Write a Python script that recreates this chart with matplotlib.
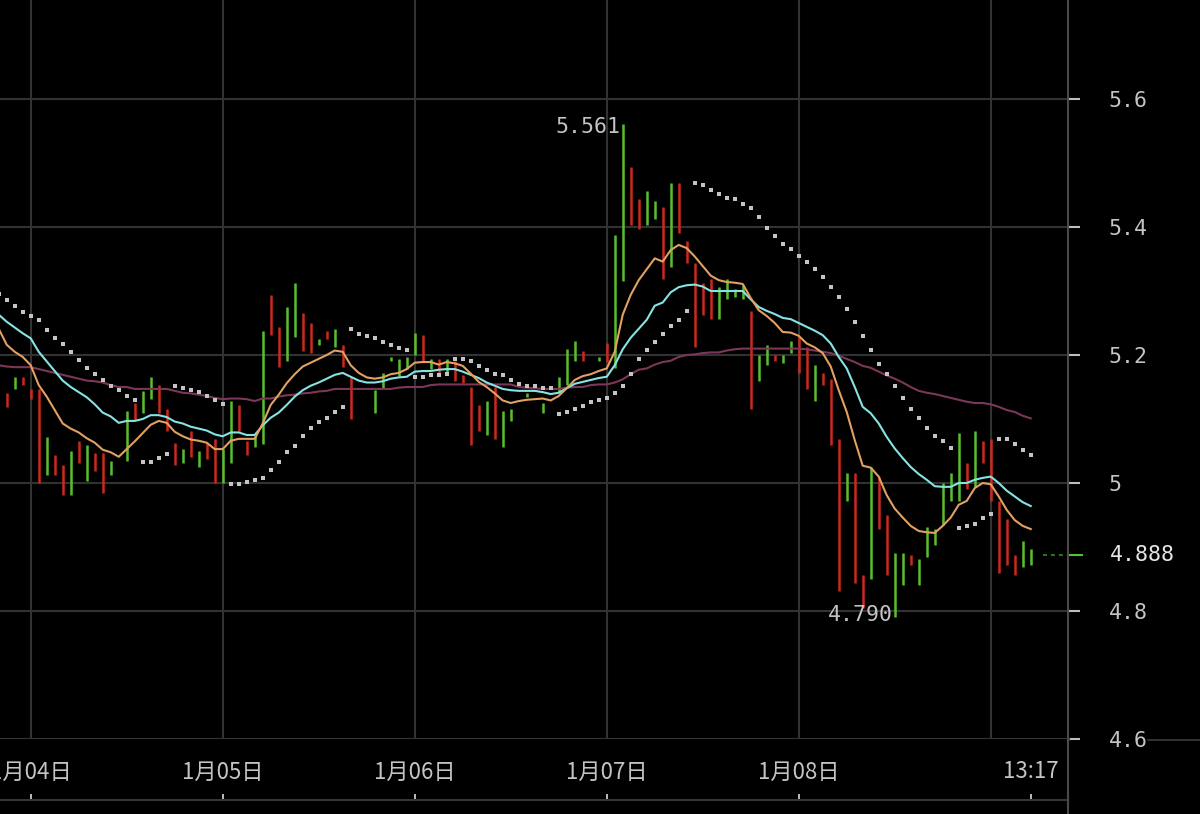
import numpy as np
import matplotlib
matplotlib.use('Agg')
import matplotlib.pyplot as plt
from matplotlib.lines import Line2D
from matplotlib.transforms import blended_transform_factory

nan = np.nan

# hourly bars, index 0..128
opens = [5.140, 5.147, 5.166, 5.147, 5.147, 5.013, 5.044, 5.028, 4.981, 5.066,
         5.003, 5.047, 5.047, 5.013, nan, 5.034, 5.125, 5.109, 5.131, 5.153,
         5.116, 5.063, 5.031, 5.081, 5.025, 5.063, 5.069, 5.000, 5.032, 5.122,
         5.066, 5.057, 5.061, 5.294, 5.244, 5.191, 5.228, 5.266, 5.250, 5.216,
         5.238, 5.213, 5.216, 5.166, nan, nan, 5.109, 5.148, 5.191, 5.167,
         5.178, 5.200, 5.231, 5.178, 5.194, 5.172, 5.191, 5.169, 5.150, 5.122,
         5.075, 5.150, 5.056, 5.097, nan, 5.134, nan, 5.109, nan, 5.141,
         5.153, 5.191, 5.206, nan, 5.191, 5.219, 5.180, 5.316, 5.494, 5.444,
         5.403, 5.413, 5.431, 5.338, 5.469, 5.378, 5.344, 5.313, 5.319, 5.256,
         5.288, 5.291, 5.288, 5.269, 5.159, 5.184, 5.200, 5.188, 5.203, 5.228,
         5.213, 5.128, 5.172, 5.163, 5.069, 4.972, 5.016, 4.856, 4.850, 5.009,
         4.950, 4.790, 4.841, 4.888, 4.841, 4.884, 4.903, 4.934, 4.972, 4.972,
         5.031, 4.994, 5.066, 5.069, 4.972, 4.944, 4.888, 4.869, 4.872]
closes = [5.119, 5.166, 5.153, 5.131, 5.000, 5.072, 5.013, 4.981, 5.050, 5.031,
          5.059, 5.019, 4.984, 5.034, nan, 5.113, 5.099, 5.144, 5.166, 5.109,
          5.081, 5.028, 5.053, 5.041, 5.050, 5.038, 5.000, 5.053, 5.128, 5.081,
          5.044, 5.074, 5.238, 5.231, 5.181, 5.275, 5.313, 5.206, 5.203, 5.225,
          5.225, 5.241, 5.181, 5.100, nan, nan, 5.145, 5.172, 5.197, 5.194,
          5.197, 5.234, 5.191, 5.194, 5.172, 5.194, 5.159, 5.156, 5.059, 5.081,
          5.128, 5.069, 5.113, 5.116, nan, 5.141, nan, 5.125, nan, 5.166,
          5.209, 5.222, 5.191, nan, 5.197, 5.189, 5.388, 5.561, 5.403, 5.397,
          5.456, 5.441, 5.319, 5.469, 5.391, 5.344, 5.213, 5.263, 5.256, 5.306,
          5.319, 5.303, 5.309, 5.116, 5.200, 5.216, 5.191, 5.200, 5.222, 5.172,
          5.147, 5.184, 5.153, 5.059, 4.831, 5.016, 4.844, 4.805, 5.025, 4.928,
          4.856, 4.891, 4.891, 4.872, 4.881, 4.931, 4.928, 5.000, 5.016, 5.078,
          4.991, 5.081, 5.031, 4.972, 4.859, 4.872, 4.856, 4.909, 4.897]

# indicator lines, index -1..128
ma_fast = [5.241, 5.216, 5.205, 5.197, 5.184, 5.153, 5.135, 5.114, 5.093, 5.085,
           5.079, 5.070, 5.063, 5.052, 5.048, 5.041, 5.053, 5.065, 5.078, 5.091,
           5.097, 5.094, 5.080, 5.073, 5.068, 5.066, 5.063, 5.053, 5.053, 5.066,
           5.069, 5.069, 5.069, 5.093, 5.122, 5.138, 5.156, 5.170, 5.182, 5.188,
           5.194, 5.200, 5.207, 5.205, 5.184, 5.172, 5.165, 5.163, 5.165, 5.170,
           5.172, 5.178, 5.188, 5.189, 5.189, 5.185, 5.189, 5.187, 5.183, 5.171,
           5.158, 5.150, 5.140, 5.129, 5.125, 5.128, 5.130, 5.131, 5.132, 5.129,
           5.136, 5.148, 5.161, 5.167, 5.170, 5.175, 5.179, 5.205, 5.263, 5.294,
           5.317, 5.334, 5.351, 5.346, 5.364, 5.372, 5.367, 5.354, 5.339, 5.324,
           5.317, 5.314, 5.313, 5.311, 5.289, 5.270, 5.261, 5.250, 5.236, 5.235,
           5.230, 5.218, 5.212, 5.203, 5.182, 5.145, 5.111, 5.067, 5.027, 5.024,
           5.010, 4.981, 4.960, 4.946, 4.933, 4.925, 4.923, 4.922, 4.933, 4.946,
           4.966, 4.972, 4.992, 5.000, 4.998, 4.979, 4.958, 4.942, 4.933, 4.928]
ma_mid = [5.263, 5.252, 5.243, 5.234, 5.226, 5.205, 5.190, 5.175, 5.160, 5.150,
          5.142, 5.134, 5.123, 5.110, 5.104, 5.094, 5.097, 5.097, 5.100, 5.106,
          5.106, 5.103, 5.096, 5.093, 5.088, 5.085, 5.082, 5.076, 5.073, 5.079,
          5.079, 5.075, 5.075, 5.090, 5.102, 5.110, 5.122, 5.135, 5.145, 5.152,
          5.157, 5.163, 5.169, 5.172, 5.166, 5.160, 5.157, 5.157, 5.159, 5.163,
          5.165, 5.166, 5.174, 5.175, 5.175, 5.177, 5.178, 5.178, 5.174, 5.169,
          5.164, 5.157, 5.152, 5.147, 5.145, 5.144, 5.144, 5.144, 5.142, 5.139,
          5.141, 5.148, 5.155, 5.158, 5.161, 5.164, 5.166, 5.184, 5.209, 5.227,
          5.241, 5.255, 5.277, 5.282, 5.298, 5.306, 5.309, 5.310, 5.307, 5.300,
          5.300, 5.300, 5.300, 5.300, 5.287, 5.275, 5.269, 5.264, 5.258, 5.256,
          5.250, 5.244, 5.238, 5.231, 5.218, 5.197, 5.179, 5.150, 5.119, 5.109,
          5.093, 5.072, 5.054, 5.039, 5.025, 5.014, 5.005, 4.995, 4.994, 4.994,
          5.000, 5.000, 5.005, 5.008, 5.010, 5.000, 4.988, 4.979, 4.970, 4.964]
ma_slow = [5.184, 5.182, 5.181, 5.181, 5.181, 5.178, 5.175, 5.172, 5.169, 5.166,
           5.163, 5.160, 5.159, 5.157, 5.153, 5.150, 5.150, 5.147, 5.147, 5.147,
           5.147, 5.147, 5.144, 5.141, 5.140, 5.138, 5.136, 5.133, 5.131, 5.132,
           5.132, 5.131, 5.128, 5.132, 5.132, 5.135, 5.137, 5.138, 5.140, 5.141,
           5.143, 5.144, 5.147, 5.147, 5.147, 5.147, 5.147, 5.147, 5.147, 5.147,
           5.149, 5.150, 5.150, 5.150, 5.153, 5.154, 5.154, 5.154, 5.154, 5.154,
           5.154, 5.154, 5.154, 5.154, 5.154, 5.150, 5.149, 5.148, 5.147, 5.147,
           5.147, 5.149, 5.150, 5.150, 5.153, 5.154, 5.154, 5.157, 5.162, 5.170,
           5.177, 5.179, 5.185, 5.189, 5.191, 5.197, 5.200, 5.201, 5.203, 5.204,
           5.204, 5.207, 5.209, 5.210, 5.210, 5.210, 5.210, 5.210, 5.210, 5.210,
           5.210, 5.209, 5.207, 5.205, 5.203, 5.199, 5.194, 5.189, 5.183, 5.180,
           5.174, 5.168, 5.163, 5.157, 5.150, 5.144, 5.141, 5.139, 5.136, 5.133,
           5.130, 5.127, 5.125, 5.125, 5.123, 5.119, 5.114, 5.111, 5.105, 5.101]
sar = [5.296, 5.286, 5.277, 5.267, 5.261, 5.255, 5.239, 5.227, 5.217, 5.205,
       5.192, 5.180, 5.170, 5.161, 5.152, 5.145, 5.136, 5.130, 5.033, 5.033,
       5.039, 5.045, 5.152, 5.148, 5.145, 5.142, 5.136, 5.130, 5.123, 4.998,
       4.998, 5.002, 5.005, 5.008, 5.020, 5.033, 5.048, 5.058, 5.074, 5.086,
       5.096, 5.102, 5.111, 5.118, 5.240, 5.233, 5.230, 5.227, 5.221, 5.215,
       5.211, 5.208, 5.165, 5.165, 5.168, 5.168, 5.171, 5.193, 5.193, 5.190,
       5.183, 5.177, 5.171, 5.168, 5.161, 5.155, 5.152, 5.152, 5.149, 5.149,
       5.108, 5.111, 5.115, 5.121, 5.127, 5.130, 5.133, 5.140, 5.152, 5.171,
       5.193, 5.208, 5.221, 5.233, 5.246, 5.255, 5.268, 5.468, 5.465, 5.458,
       5.452, 5.446, 5.443, 5.436, 5.430, 5.415, 5.399, 5.386, 5.374, 5.365,
       5.355, 5.346, 5.335, 5.322, 5.307, 5.291, 5.272, 5.252, 5.230, 5.208,
       5.186, 5.171, 5.152, 5.133, 5.115, 5.102, 5.086, 5.074, 5.065, 5.055,
       4.930, 4.933, 4.936, 4.946, 4.952, 5.068, 5.068, 5.061, 5.052, 5.043]

last_price = 4.888
day_bars = [3, 27, 51, 75, 99, 123]
tick_bars = [3, 27, 51, 75, 99, 128]
tick_labels = ['1月04日', '1月05日', '1月06日', '1月07日', '1月08日', '13:17']
y_ticks = [4.6, 4.8, 5.0, 5.2, 5.4, 5.6]
y_labels = ['4.6', '4.8', '5', '5.2', '5.4', '5.6']

GREEN = '#58bf2f'
RED = '#cc2a1e'
ORANGE = '#e2a063'
CYAN = '#86e3e3'
PURPLE = '#7c3758'
DOTS = '#c4c4c4'
GRID = '#323232'
TXT = '#c4c4c4'

W, H = 1200, 814
def fx(px):
    return px / W
def fy(py):
    return 1 - py / H

fig = plt.figure(figsize=(12, 8.14), dpi=100, facecolor='black')
ax = fig.add_axes([0, fy(739), fx(1068), 739 / H])
ax.set_facecolor('black')
ax.set_xlim(-0.84, 132.66)
ax.set_ylim(4.6, 5.7547)

for s in ['top', 'left', 'right']:
    ax.spines[s].set_visible(False)
ax.spines['bottom'].set_color('#363636')
ax.spines['bottom'].set_linewidth(2.2)

for yv in y_ticks[1:]:
    ax.axhline(yv, color=GRID, lw=1.5, zorder=0)
for d in day_bars:
    ax.axvline(d, color=GRID, lw=1.5, zorder=0)

idx = np.arange(len(opens))
o = np.array(opens)
c = np.array(closes)
cols = [GREEN if cc >= oo else RED for oo, cc in zip(o, c)]
ax.vlines(idx, np.fmin(o, c), np.fmax(o, c), colors=cols, lw=1.8, zorder=2)

lx = np.arange(-1, len(opens))
ax.plot(lx, ma_slow, color=PURPLE, lw=1.5, zorder=3)
ax.plot(lx, ma_mid, color=CYAN, lw=1.5, zorder=4)
ax.plot(lx, ma_fast, color=ORANGE, lw=1.5, zorder=5)
ax.scatter(lx, sar, marker='s', s=9, color=DOTS, lw=0, zorder=6)

# high / low labels
hi_i = int(np.nanargmax(c))
lo_i = int(np.nanargmin(o))
ax.annotate(f'{c[hi_i]:.3f}', xy=(hi_i, c[hi_i]), xytext=(-2, -2),
            textcoords='offset points', ha='right', va='center',
            color=TXT, fontsize=15.5, family='DejaVu Sans Mono')
ax.annotate(f'{o[lo_i]:.3f}', xy=(lo_i, o[lo_i]), xytext=(-1, 2),
            textcoords='offset points', ha='right', va='center',
            color=TXT, fontsize=15.5, family='DejaVu Sans Mono')

# right price axis
ax.yaxis.tick_right()
ax.set_yticks(y_ticks)
ax.set_yticklabels(y_labels)
ax.tick_params(axis='y', length=8.6, width=1.5, color='#bdbdbd', pad=20.5,
               labelsize=15.5, labelcolor=TXT)
for t in ax.get_yticklabels():
    t.set_family('DejaVu Sans Mono')
ax.set_xticks([])

# last price marker
ax.hlines(last_price, 129.5, 132.66, color='#2f7f22', lw=1.3, linestyles=(0, (2.2, 2.2)))
trans = blended_transform_factory(fig.transFigure, ax.transData)
ax.add_line(Line2D([fx(1068), fx(1082)], [last_price, last_price], transform=trans,
                   color=GREEN, lw=1.5, clip_on=False))
ax.text(fx(1110), last_price, f'{last_price:.3f}', transform=trans, ha='left',
        va='center', color='#e6e6e6', fontsize=15.5, family='DejaVu Sans Mono')

# time axis panel
xp = fig.add_axes([0, fy(800), fx(1068), 61 / H])
xp.set_facecolor('black')
xp.set_xlim(ax.get_xlim())
xp.set_ylim(0, 1)
for s in ['top', 'left', 'right']:
    xp.spines[s].set_visible(False)
xp.spines['bottom'].set_color('#363636')
xp.spines['bottom'].set_linewidth(1.5)
xp.set_yticks([])
xp.set_xticks(tick_bars)
xp.set_xticklabels([])
xp.tick_params(axis='x', direction='in', length=4.5, width=1.2, color='#dddddd')
for pos, lab in zip(tick_bars, tick_labels):
    xp.text(pos, 0.46, lab, ha='center', va='center', color=TXT, fontsize=16,
            family=['Noto Sans CJK SC', 'DejaVu Sans'])

fig.add_artist(Line2D([fx(1068), fx(1068)], [0, 1], color='#4a4a4a', lw=1.5))
fig.add_artist(Line2D([fx(1148), 1], [fy(740), fy(740)], color='#3a3a3a', lw=1.2))

fig.savefig('out.png', dpi=100, facecolor='black')
